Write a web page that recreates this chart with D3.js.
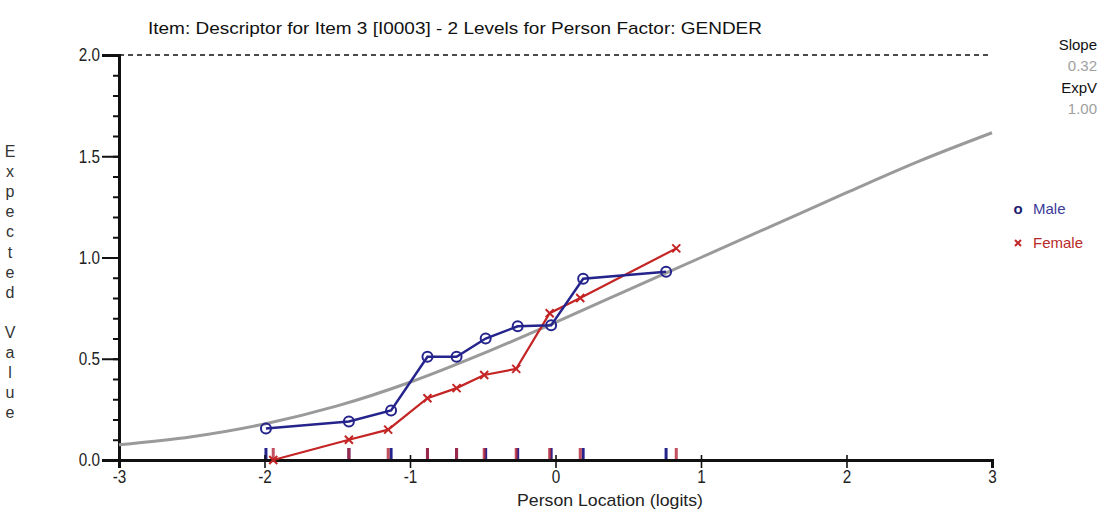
<!DOCTYPE html>
<html>
<head>
<meta charset="utf-8">
<script src="https://cdn.jsdelivr.net/npm/d3@7"></script>
<style>
  html, body { margin: 0; padding: 0; background: #fff; }
  svg { display: block; font-family: "Liberation Sans", Arial, sans-serif; }
</style>
</head>
<body>
<svg id="chart" width="1112" height="515"></svg>
<script>
// Item characteristic curve for Item 3 split by person factor GENDER

const titleText = "Item: Descriptor for Item 3 [I0003] - 2 Levels for Person Factor: GENDER";
const xLabel = "Person Location (logits)";
const yLabel = "Expected Value";

// Model expected-value curve (read at half-logit steps)
const modelLogits   = [-3, -2.5, -2, -1.5, -1, -0.5, 0, 0.5, 1, 1.5, 2, 2.5, 3];
const modelExpected = [0.075, 0.115, 0.178, 0.267, 0.384, 0.525, 0.68, 0.84, 1.0, 1.16, 1.32, 1.476, 1.616];

// Observed class-interval means, Male
const maleLogits   = [-1.99, -1.42, -1.13, -0.88, -0.68, -0.48, -0.26, -0.03, 0.19, 0.76];
const maleObserved = [0.155, 0.19, 0.245, 0.51, 0.51, 0.60, 0.66, 0.665, 0.895, 0.93];

// Observed class-interval means, Female
const femaleLogits   = [-1.94, -1.42, -1.15, -0.88, -0.68, -0.49, -0.27, -0.04, 0.17, 0.83];
const femaleObserved = [0.0, 0.10, 0.15, 0.305, 0.355, 0.42, 0.45, 0.725, 0.80, 1.045];

const xTicks = [-3, -2, -1, 0, 1, 2, 3];
const yMajorTicks = [0, 0.5, 1.0, 1.5, 2.0];
const yMinorTicks = d3.range(0, 21).map(i => i / 10);

const slopeValue = "0.32";
const expValue = "1.00";
const groups = ["Male", "Female"];

const svg = d3.select("#chart");
const x = d3.scaleLinear().domain([-3, 3]).range([119, 992]);
const y = d3.scaleLinear().domain([0, 2]).range([460, 55]);

const BLUE = "#24248c";
const RED = "#c42424";
const GREY = "#9a9a9a";

// Title
svg.append("text")
  .attr("x", 148).attr("y", 34)
  .attr("font-size", 17)
  .attr("textLength", 614).attr("lengthAdjust", "spacingAndGlyphs")
  .attr("fill", "#111")
  .text(titleText);

// Dashed ceiling at maximum expected value
svg.append("line")
  .attr("x1", x(-3)).attr("x2", x(3))
  .attr("y1", y(2)).attr("y2", y(2))
  .attr("stroke", "#111").attr("stroke-width", 1.6)
  .attr("stroke-dasharray", "5,4");

// Y axis: minor ticks
svg.append("g")
  .attr("transform", `translate(${x(-3)},0)`)
  .call(d3.axisLeft(y).tickValues(yMinorTicks).tickSize(6).tickFormat(""))
  .call(g => g.select(".domain").remove())
  .call(g => g.selectAll("line").attr("stroke", "#111").attr("stroke-width", 2));

// Y axis: major ticks and labels
svg.append("g")
  .attr("transform", `translate(${x(-3)},0)`)
  .call(d3.axisLeft(y).tickValues(yMajorTicks).tickSize(17).tickPadding(2).tickFormat(d3.format(".1f")))
  .call(g => g.select(".domain").attr("stroke", "#111").attr("stroke-width", 3))
  .call(g => g.selectAll("line").attr("stroke", "#111").attr("stroke-width", 2))
  .call(g => g.selectAll("text").attr("font-size", 17).attr("fill", "#222")
    .attr("x", null).attr("transform", "translate(-19,0) scale(0.9,1.08)"));

// Person distribution markers along the x axis
const tickH = 12;
svg.append("g").selectAll("rect")
  .data(maleLogits).join("rect")
  .attr("x", d => x(d) - 1.5).attr("y", y(0) - tickH)
  .attr("width", 3).attr("height", tickH)
  .attr("fill", BLUE);
svg.append("g").selectAll("rect")
  .data(femaleLogits).join("rect")
  .attr("x", d => x(d) - 1.5).attr("y", y(0) - tickH)
  .attr("width", 3).attr("height", tickH)
  .attr("fill", "#b42a3c").attr("opacity", 0.82);

// X axis
svg.append("g")
  .attr("transform", `translate(0,${y(0)})`)
  .call(d3.axisBottom(x).tickValues(xTicks).tickSize(8).tickPadding(2).tickFormat(d => d < 0 ? "-" + Math.abs(d) : d))
  .call(g => g.select(".domain").attr("stroke", "#111").attr("stroke-width", 3))
  .call(g => g.selectAll("line").attr("stroke", "#111").attr("stroke-width", 1.6))
  .call(g => g.selectAll("text").attr("font-size", 17).attr("fill", "#222")
    .attr("transform", "scale(0.9,1.05)"));
svg.append("g")
  .attr("transform", `translate(0,${y(0)})`)
  .call(d3.axisTop(x).tickValues(xTicks.slice(1, -1)).tickSize(5).tickFormat(""))
  .call(g => g.select(".domain").remove())
  .call(g => g.selectAll("line").attr("stroke", "#111").attr("stroke-width", 1.6));

// Axis titles
svg.append("text")
  .attr("x", 517).attr("y", 506)
  .attr("font-size", 17).attr("fill", "#222")
  .attr("textLength", 186).attr("lengthAdjust", "spacingAndGlyphs")
  .text(xLabel);

const yChars = yLabel.split("");
svg.append("g").selectAll("text")
  .data(yChars).join("text")
  .attr("x", 10).attr("y", (d, i) => 157 + i * 20.1)
  .attr("text-anchor", "middle").attr("font-size", 16).attr("fill", "#333")
  .text(d => d);

// Model curve
const curveLine = d3.line().x(d => x(d[0])).y(d => y(d[1])).curve(d3.curveMonotoneX);
svg.append("path")
  .datum(d3.zip(modelLogits, modelExpected))
  .attr("d", curveLine)
  .attr("fill", "none").attr("stroke", GREY).attr("stroke-width", 3);

const plainLine = d3.line().x(d => x(d[0])).y(d => y(d[1]));
const femalePts = d3.zip(femaleLogits, femaleObserved);
const malePts = d3.zip(maleLogits, maleObserved);

// Female observed
svg.append("path")
  .datum(femalePts)
  .attr("d", plainLine)
  .attr("fill", "none").attr("stroke", RED).attr("stroke-width", 2.2);
svg.append("g").selectAll("path")
  .data(femalePts).join("path")
  .attr("transform", d => `translate(${x(d[0])},${y(d[1])})`)
  .attr("d", "M-4,-4L4,4M-4,4L4,-4")
  .attr("stroke", RED).attr("stroke-width", 2);

// Male observed
svg.append("path")
  .datum(malePts)
  .attr("d", plainLine)
  .attr("fill", "none").attr("stroke", BLUE).attr("stroke-width", 2.5);
svg.append("g").selectAll("circle")
  .data(malePts).join("circle")
  .attr("cx", d => x(d[0])).attr("cy", d => y(d[1]))
  .attr("r", 5)
  .attr("fill", "none").attr("stroke", BLUE).attr("stroke-width", 2);

// Slope / expected value readout
const info = svg.append("g").attr("font-size", 15).attr("text-anchor", "end");
info.append("text").attr("x", 1097).attr("y", 50).attr("fill", "#111").text("Slope");
info.append("text").attr("x", 1097).attr("y", 71).attr("fill", "#a0a0a0").text(slopeValue);
info.append("text").attr("x", 1097).attr("y", 93).attr("fill", "#111").text("ExpV");
info.append("text").attr("x", 1097).attr("y", 114).attr("fill", "#a0a0a0").text(expValue);

// Legend
const legend = svg.append("g").attr("font-size", 15);
legend.append("text").attr("x", 1018).attr("y", 214).attr("text-anchor", "middle")
  .attr("fill", "#1c1c70").attr("font-weight", "bold").text("o");
legend.append("text").attr("x", 1033).attr("y", 214).attr("fill", "#3a3a98").text(groups[0]);
legend.append("path").attr("transform", "translate(1018,243)")
  .attr("d", "M-3,-3L3,3M-3,3L3,-3").attr("stroke", "#c02a2a").attr("stroke-width", 2);
legend.append("text").attr("x", 1033).attr("y", 248).attr("fill", "#b82a2a").text(groups[1]);
</script>
</body>
</html>
